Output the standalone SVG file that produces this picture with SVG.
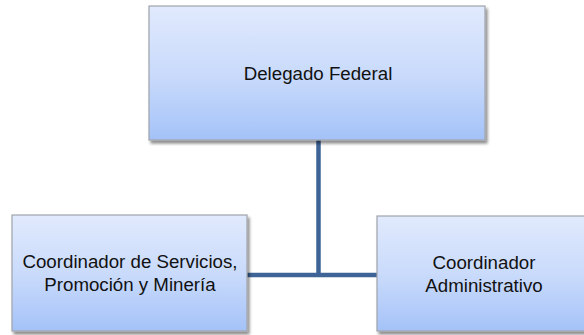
<svg xmlns="http://www.w3.org/2000/svg" width="584" height="335" viewBox="0 0 584 335">
  <defs>
    <linearGradient id="boxGrad" x1="0" y1="0" x2="0" y2="1">
      <stop offset="0" stop-color="#e1eafd"/>
      <stop offset="0.55" stop-color="#c7d9fb"/>
      <stop offset="1" stop-color="#a4c2f8"/>
    </linearGradient>
    <filter id="shadow" x="-10%" y="-10%" width="125%" height="130%">
      <feGaussianBlur in="SourceAlpha" stdDeviation="1.6"/>
      <feOffset dx="2" dy="3" result="b"/>
      <feComponentTransfer><feFuncA type="linear" slope="0.45"/></feComponentTransfer>
      <feMerge><feMergeNode/><feMergeNode in="SourceGraphic"/></feMerge>
    </filter>
  </defs>
  <style>
    .box { fill: url(#boxGrad); stroke: #a0a4ab; stroke-width: 1.2; filter: url(#shadow); }
    .lbl { font-family: "Liberation Sans", Arial, sans-serif; font-size: 18.7px; fill: #111; text-anchor: middle; }
    .conn { stroke: #3e6497; stroke-width: 4.5; fill: none; }
  </style>
  <rect width="584" height="335" fill="#ffffff"/>
  <g id="connectors">
    <line class="conn" x1="318.5" y1="140" x2="318.5" y2="275"/>
    <line class="conn" x1="247" y1="275" x2="378" y2="275"/>
  </g>
  <g id="node-delegado">
    <rect class="box" x="149" y="6" width="336" height="134"/>
    <text class="lbl" x="318" y="80">Delegado Federal</text>
  </g>
  <g id="node-servicios">
    <rect class="box" x="12" y="215" width="235" height="116"/>
    <text class="lbl" x="130" y="268">Coordinador de Servicios,</text>
    <text class="lbl" x="130" y="291">Promoción y Minería</text>
  </g>
  <g id="node-administrativo">
    <rect class="box" x="377" y="216" width="220" height="115"/>
    <text class="lbl" x="484" y="269">Coordinador</text>
    <text class="lbl" x="484" y="292">Administrativo</text>
  </g>
</svg>
